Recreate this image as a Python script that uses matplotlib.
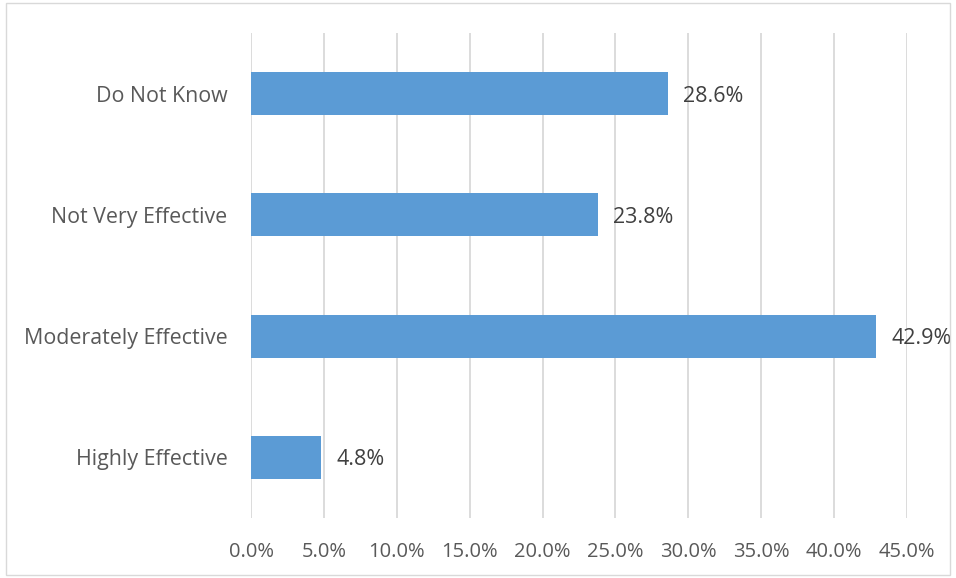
import matplotlib
matplotlib.use('Agg')
import matplotlib.pyplot as plt
from matplotlib.patches import Rectangle
from matplotlib.ticker import FuncFormatter

plt.rcParams['font.family'] = ['Open Sans', 'DejaVu Sans']

categories = ['Highly Effective', 'Moderately Effective', 'Not Very Effective', 'Do Not Know']
values = [4.8, 42.9, 23.8, 28.6]
xticks = [0, 5, 10, 15, 20, 25, 30, 35, 40, 45]

BAR = '#5B9BD5'
TXT = '#595959'
GRID = '#D9D9D9'

fig = plt.figure(figsize=(9.56, 5.78), dpi=100)
ax = fig.add_axes([0.2626, 0.1038, 0.6861, 0.8392])

y = range(len(categories))
ax.barh(y, values, height=0.355, color=BAR, zorder=3)
for yi, v in zip(y, values):
    ax.annotate(f'{v:.1f}%', xy=(v, yi), xytext=(11, 0), textcoords='offset points',
                ha='left', va='center_baseline', fontsize=15.5, color='#404040')

ax.set_xlim(0, 45)
ax.set_ylim(-0.5, 3.5)
ax.set_xticks(xticks)
ax.xaxis.set_major_formatter(FuncFormatter(lambda v, p: f'{v:.1f}%'))
ax.set_yticks(list(y))
ax.set_yticklabels(categories)
ax.tick_params(axis='x', length=0, pad=17, labelsize=14.5, labelcolor=TXT)
ax.tick_params(axis='y', length=0, pad=17, labelsize=15.4, labelcolor=TXT)
ax.grid(axis='x', color=GRID, lw=1.3, zorder=0)
for s in ax.spines.values():
    s.set_visible(False)

fig.patches.append(Rectangle((6 / 956, 3 / 578), 944 / 956, 572 / 578, transform=fig.transFigure,
                             fill=False, edgecolor='#D9D9D9', lw=1.0))

fig.savefig('out.png', dpi=100)
